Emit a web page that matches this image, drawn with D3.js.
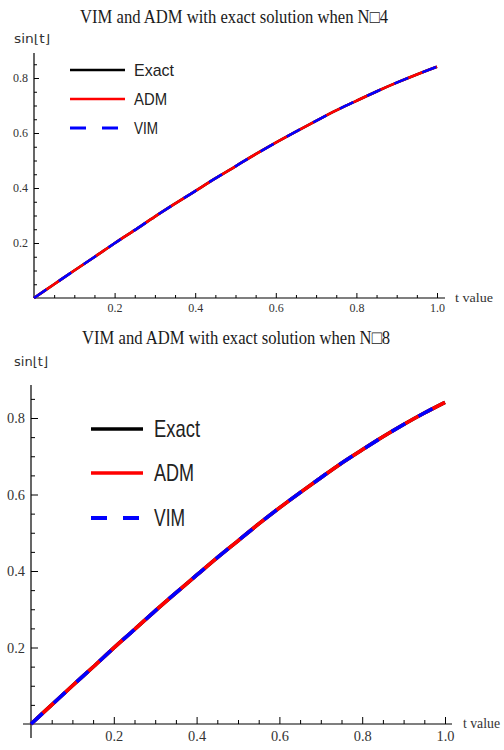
<!DOCTYPE html>
<html>
<head>
<meta charset="utf-8">
<script src="https://d3js.org/d3.v7.min.js"></script>
<style>
body { margin: 0; background: #fff; }
</style>
</head>
<body>
<div id="chart"></div>
<script>
// t values and sin(t)
var tVals = [0, 0.05, 0.1, 0.15, 0.2, 0.25, 0.3, 0.35, 0.4, 0.45, 0.5,
             0.55, 0.6, 0.65, 0.7, 0.75, 0.8, 0.85, 0.9, 0.95, 1.0];
var exactVals = [0, 0.050, 0.100, 0.149, 0.199, 0.247, 0.296, 0.343, 0.389, 0.435, 0.479,
                 0.523, 0.565, 0.605, 0.644, 0.682, 0.717, 0.751, 0.783, 0.813, 0.841];
var admVals   = [0, 0.050, 0.100, 0.149, 0.199, 0.247, 0.296, 0.343, 0.389, 0.435, 0.479,
                 0.523, 0.565, 0.605, 0.644, 0.682, 0.717, 0.751, 0.783, 0.813, 0.841];
var vimVals   = [0, 0.050, 0.100, 0.149, 0.199, 0.247, 0.296, 0.343, 0.389, 0.435, 0.479,
                 0.523, 0.565, 0.605, 0.644, 0.682, 0.717, 0.751, 0.783, 0.813, 0.841];

var xMajor = [0.2, 0.4, 0.6, 0.8, 1.0];
var yMajor = [0.2, 0.4, 0.6, 0.8];
var xMinor = [0.05, 0.1, 0.15, 0.25, 0.3, 0.35, 0.45, 0.5, 0.55, 0.65, 0.7, 0.75, 0.85, 0.9, 0.95];
var yMinor = [0.05, 0.1, 0.15, 0.25, 0.3, 0.35, 0.45, 0.5, 0.55, 0.65, 0.7, 0.75, 0.85];

var seriesNames = ["Exact", "ADM", "VIM"];
var titles = ["VIM and ADM with exact solution when N\u25A14",
              "VIM and ADM with exact solution when N\u25A18"];

const svg = d3.select("#chart")
  .append("svg")
    .attr("width", 504)
    .attr("height", 750);

const serif = "'Liberation Serif', 'Times New Roman', serif";

// panel layouts (pixel positions)
var panels = [
  {title: titles[0], titleX: 234, titleY: 23, titleW: 308, titleSize: 18,
   x0: 34, x1: 437, y0: 298, y1: 78, axisTop: 53, axisBottom: 298, xLeft: 34, xRight: 445,
   lw: 2.6, tickFont: 12, tickW: 15, labelY: 43, labelSize: 12, labelW: 36, tLabelX: 455, tLabelSize: 13, tLabelW: 38,
   legX0: 70, legX1: 125, legTextX: 134, legRows: [70, 99, 128], legFont: 17, legW: [40, 33, 24],
   dash: "15,15", majTick: 5, minTick: 3},
  {title: titles[1], titleX: 236, titleY: 344, titleW: 308, titleSize: 19,
   x0: 31, x1: 445, y0: 724, y1: 418, axisTop: 385, axisBottom: 738, xLeft: 23, xRight: 452,
   lw: 3.6, tickFont: 15, tickW: 18, labelY: 366, labelSize: 13, labelW: 34, tLabelX: 463, tLabelSize: 15, tLabelW: 37,
   legX0: 91, legX1: 143, legTextX: 154, legRows: [429, 473, 518], legFont: 24, legW: [46, 40, 31],
   dash: "16,15", majTick: 7, minTick: 4}
];

panels.forEach(function(p) {
  const g = svg.append("g");

  const x = d3.scaleLinear().domain([0, 1]).range([p.x0, p.x1]);
  const y = d3.scaleLinear().domain([0, 0.8]).range([p.y0, p.y1]);

  // title
  g.append("text")
    .attr("x", p.titleX)
    .attr("y", p.titleY)
    .attr("text-anchor", "middle")
    .attr("textLength", p.titleW)
    .attr("lengthAdjust", "spacingAndGlyphs")
    .style("font-family", serif)
    .style("font-size", p.titleSize + "px")
    .style("fill", "#1a1a1a")
    .text(p.title);

  // axis lines
  g.append("line")
    .attr("x1", p.xLeft).attr("x2", p.xRight)
    .attr("y1", y(0)).attr("y2", y(0))
    .attr("stroke", "#000").attr("stroke-width", 1.2);
  g.append("line")
    .attr("x1", x(0)).attr("x2", x(0))
    .attr("y1", p.axisTop).attr("y2", p.axisBottom)
    .attr("stroke", "#000").attr("stroke-width", 1.2);

  // x ticks (inward)
  const xAx = g.append("g")
    .attr("transform", `translate(0,${y(0)})`)
    .call(d3.axisBottom(x).tickValues(xMajor).tickSize(-p.majTick).tickPadding(p.tickFont * 0.3 + 2)
      .tickFormat(d3.format(".1f")));
  const xAxMinor = g.append("g")
    .attr("transform", `translate(0,${y(0)})`)
    .call(d3.axisBottom(x).tickValues(xMinor).tickSize(-p.minTick).tickFormat(""));

  // y ticks (inward)
  const yAx = g.append("g")
    .attr("transform", `translate(${x(0)},0)`)
    .call(d3.axisLeft(y).tickValues(yMajor).tickSize(-p.majTick).tickPadding(6)
      .tickFormat(d3.format(".1f")));
  const yAxMinor = g.append("g")
    .attr("transform", `translate(${x(0)},0)`)
    .call(d3.axisLeft(y).tickValues(yMinor).tickSize(-p.minTick).tickFormat(""));

  [xAx, xAxMinor, yAx, yAxMinor].forEach(function(a) {
    a.select(".domain").remove();
    a.selectAll("line").attr("stroke", "#000").attr("stroke-width", 1);
    a.selectAll("text")
      .attr("textLength", p.tickW)
      .attr("lengthAdjust", "spacingAndGlyphs")
      .style("font-family", serif)
      .style("font-size", p.tickFont + "px")
      .style("fill", "#333");
  });

  // axis labels
  g.append("text")
    .attr("x", 14)
    .attr("y", p.labelY)
    .attr("textLength", p.labelW)
    .attr("lengthAdjust", "spacingAndGlyphs")
    .style("font-family", "'DejaVu Sans', sans-serif")
    .style("font-size", p.labelSize + "px")
    .style("fill", "#333")
    .text("sin\u230At\u230B");
  g.append("text")
    .attr("x", p.tLabelX)
    .attr("y", y(0) + 4)
    .attr("textLength", p.tLabelW)
    .attr("lengthAdjust", "spacingAndGlyphs")
    .style("font-family", serif)
    .style("font-size", p.tLabelSize + "px")
    .style("fill", "#333")
    .text("t value");

  // curves
  const line = d3.line()
    .x(function(d) { return x(d[0]); })
    .y(function(d) { return y(d[1]); })
    .curve(d3.curveMonotoneX);

  const series = [
    {vals: exactVals, color: "#000", dash: null},
    {vals: admVals, color: "#ff0000", dash: null},
    {vals: vimVals, color: "#0000ff", dash: p.dash}
  ];
  series.forEach(function(s) {
    g.append("path")
      .datum(tVals.map(function(t, i) { return [t, s.vals[i]]; }))
      .attr("fill", "none")
      .attr("stroke", s.color)
      .attr("stroke-width", p.lw)
      .attr("stroke-dasharray", s.dash)
      .attr("d", line);
  });

  // legend
  const leg = g.selectAll(".leg")
    .data(seriesNames)
    .enter()
    .append("g")
      .attr("transform", (d, i) => `translate(0,${p.legRows[i]})`);
  leg.append("line")
    .attr("x1", p.legX0).attr("x2", p.legX1)
    .attr("y1", 0).attr("y2", 0)
    .attr("stroke", (d, i) => series[i].color)
    .attr("stroke-width", (d, i) => i == 2 ? p.lw + 0.6 : p.lw)
    .attr("stroke-dasharray", (d, i) => i == 2 ? "16,16" : null);
  leg.append("text")
    .attr("x", p.legTextX)
    .attr("y", 0)
    .attr("dy", "0.35em")
    .attr("textLength", (d, i) => p.legW[i])
    .attr("lengthAdjust", "spacingAndGlyphs")
    .style("font-family", "'Liberation Sans', Arial, sans-serif")
    .style("font-size", p.legFont + "px")
    .style("fill", "#222")
    .text(d => d);
});
</script>
</body>
</html>
